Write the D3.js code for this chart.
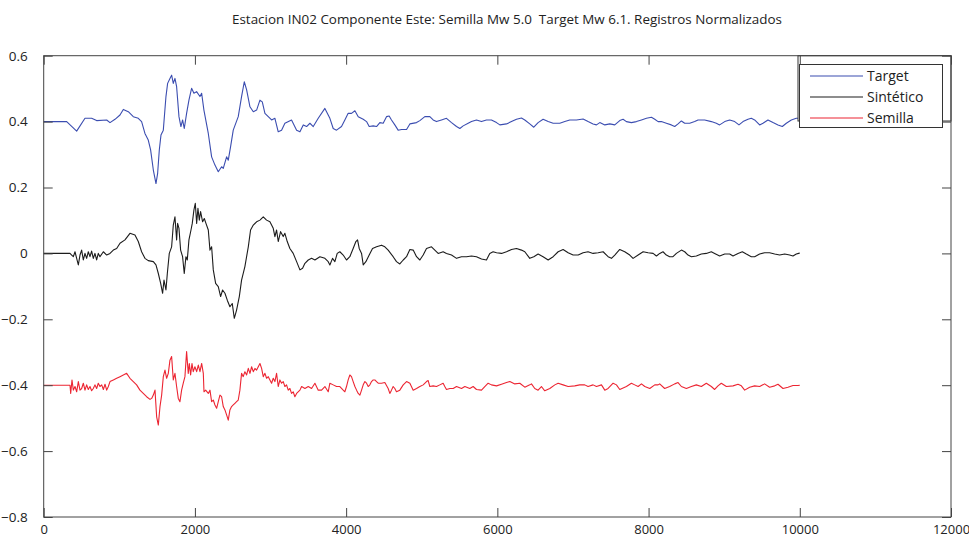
<!DOCTYPE html>
<html>
<head>
<meta charset="utf-8">
<script src="https://cdn.jsdelivr.net/npm/d3@7"></script>
<style>
  body { margin: 0; background: #fff; }
  text { font-family: "Open Sans", "Noto Sans", sans-serif; }
</style>
</head>
<body>
<div id="chart"></div>
<script>
let width = 969;
let height = 540;
let margin = ({top: 55.7, right: 18, bottom: 23, left: 43.7});

let title = "Estacion IN02 Componente Este: Semilla Mw 5.0  Target Mw 6.1. Registros Normalizados";
let seriesNames = ["Target", "Sintético", "Semilla"];
let colors = ["#3b4db0", "#1c1c1c", "#ec2532"];
let xTicks = [0, 2000, 4000, 6000, 8000, 10000, 12000];
let yTicks = [0.6, 0.4, 0.2, 0, -0.2, -0.4, -0.6, -0.8];

// [muestra, amplitud]
let target = [
  [0,0.400],[304,0.400],[436,0.371],[546,0.410],[634,0.410],[700,0.403],[833,0.405],[877,0.397],
  [943,0.407],[1009,0.420],[1053,0.437],[1119,0.430],[1185,0.415],[1251,0.410],[1295,0.400],
  [1339,0.364],[1383,0.344],[1414,0.314],[1450,0.253],[1485,0.212],[1507,0.243],[1529,0.314],
  [1551,0.359],[1582,0.374],[1617,0.476],[1639,0.516],[1670,0.531],[1692,0.541],[1714,0.516],
  [1736,0.531],[1758,0.506],[1789,0.415],[1815,0.385],[1837,0.405],[1859,0.379],[1890,0.425],
  [1921,0.465],[1956,0.501],[1987,0.486],[2022,0.491],[2067,0.476],[2089,0.486],[2119,0.435],
  [2177,0.364],[2221,0.293],[2265,0.268],[2309,0.248],[2353,0.263],[2375,0.258],[2419,0.293],
  [2441,0.283],[2472,0.324],[2507,0.374],[2573,0.415],[2617,0.476],[2653,0.521],[2684,0.496],
  [2728,0.445],[2772,0.430],[2816,0.435],[2860,0.465],[2891,0.460],[2926,0.425],[2970,0.415],
  [3014,0.405],[3058,0.410],[3102,0.369],[3146,0.374],[3190,0.395],[3278,0.405],[3345,0.374],
  [3389,0.369],[3433,0.390],[3477,0.385],[3521,0.395],[3565,0.385],[3631,0.410],[3719,0.440],
  [3785,0.410],[3829,0.379],[3873,0.374],[3939,0.385],[3983,0.405],[4027,0.425],[4071,0.425],
  [4116,0.433],[4160,0.415],[4226,0.407],[4270,0.400],[4305,0.385],[4358,0.387],[4402,0.385],
  [4446,0.397],[4490,0.395],[4534,0.415],[4569,0.417],[4600,0.405],[4644,0.390],[4688,0.374],
  [4733,0.376],[4799,0.376],[4843,0.393],[4931,0.397],[4975,0.403],[5041,0.415],[5107,0.415],
  [5151,0.405],[5195,0.400],[5261,0.405],[5327,0.410],[5394,0.397],[5460,0.385],[5504,0.379],
  [5548,0.387],[5614,0.395],[5658,0.400],[5724,0.405],[5790,0.400],[5856,0.405],[5922,0.405],
  [5989,0.397],[6033,0.390],[6121,0.393],[6187,0.400],[6253,0.407],[6319,0.411],[6363,0.405],
  [6429,0.393],[6482,0.383],[6539,0.397],[6605,0.407],[6672,0.400],[6738,0.395],[6826,0.395],
  [6892,0.400],[6958,0.405],[7046,0.405],[7134,0.408],[7200,0.400],[7266,0.393],[7311,0.390],
  [7355,0.397],[7421,0.390],[7487,0.393],[7553,0.390],[7619,0.403],[7663,0.407],[7707,0.400],
  [7773,0.397],[7839,0.400],[7906,0.405],[7972,0.410],[8038,0.413],[8082,0.407],[8126,0.400],
  [8169,0.400],[8235,0.395],[8301,0.390],[8346,0.385],[8390,0.393],[8434,0.402],[8478,0.395],
  [8544,0.395],[8610,0.400],[8654,0.405],[8742,0.405],[8830,0.400],[8896,0.395],[8940,0.390],
  [9007,0.400],[9073,0.405],[9139,0.400],[9196,0.390],[9249,0.400],[9315,0.407],[9359,0.410],
  [9403,0.405],[9469,0.390],[9513,0.395],[9579,0.405],[9646,0.397],[9712,0.390],[9769,0.385],
  [9822,0.395],[9888,0.405],[9954,0.410],[10000,0.410]
];

let sintetico = [
  [0,0],[348,0],[370,-0.005],[392,-0.010],[414,0.005],[436,-0.015],[458,-0.035],[480,-0.005],
  [502,0.010],[524,-0.020],[546,0],[568,-0.015],[590,0.005],[612,-0.010],[634,0.007],[656,-0.015],
  [678,0],[700,-0.020],[722,0],[744,-0.010],[789,0.005],[833,-0.005],[877,0],[921,0.010],
  [965,0.015],[1009,0.031],[1075,0.041],[1141,0.061],[1207,0.056],[1251,0.036],[1295,0.005],
  [1339,-0.015],[1383,-0.022],[1450,-0.025],[1485,-0.035],[1516,-0.061],[1547,-0.091],[1573,-0.121],
  [1591,-0.081],[1617,-0.111],[1635,-0.061],[1661,0],[1692,0.020],[1714,0.086],[1736,0.111],
  [1758,0.041],[1771,0.091],[1789,0.076],[1811,0.010],[1837,-0.010],[1859,-0.061],[1881,-0.010],
  [1899,-0.020],[1921,0.041],[1948,0.071],[1965,0.091],[1987,0.132],[2005,0.152],[2023,0.091],
  [2040,0.137],[2058,0.101],[2075,0.127],[2102,0.096],[2124,0.106],[2146,0.091],[2177,0.071],
  [2199,0.010],[2221,0.020],[2243,-0.050],[2274,-0.091],[2309,-0.101],[2340,-0.131],[2366,-0.111],
  [2397,-0.121],[2428,-0.142],[2463,-0.162],[2494,-0.152],[2521,-0.197],[2551,-0.172],[2587,-0.131],
  [2617,-0.081],[2661,-0.040],[2706,0.020],[2736,0.071],[2772,0.086],[2816,0.096],[2860,0.101],
  [2904,0.111],[2948,0.101],[2992,0.096],[3036,0.076],[3058,0.051],[3080,0.071],[3102,0.036],
  [3133,0.066],[3168,0.051],[3190,0.061],[3221,0.036],[3256,0.015],[3300,0],[3345,-0.025],
  [3389,-0.050],[3424,-0.045],[3455,-0.030],[3499,-0.020],[3543,-0.015],[3587,-0.020],[3653,-0.010],
  [3719,-0.015],[3763,-0.025],[3785,-0.035],[3820,-0.015],[3851,-0.025],[3882,0],[3917,0.005],
  [3961,-0.005],[4005,-0.020],[4049,-0.010],[4093,0.015],[4129,0.036],[4151,0.041],[4173,0.015],
  [4204,0],[4226,-0.035],[4261,-0.025],[4305,-0.005],[4349,0.015],[4402,0.020],[4468,0.025],
  [4512,0.020],[4556,0.010],[4622,-0.010],[4666,-0.025],[4710,-0.032],[4755,-0.020],[4799,-0.010],
  [4843,0.012],[4887,0.010],[4931,-0.010],[4975,-0.020],[5019,-0.005],[5063,0.015],[5129,0.020],
  [5173,0.010],[5217,0],[5283,0.005],[5327,0],[5394,-0.005],[5460,-0.015],[5526,-0.010],
  [5592,-0.010],[5658,-0.008],[5724,-0.010],[5790,-0.017],[5856,-0.020],[5900,0],[5944,0.005],
  [5989,0.002],[6055,0],[6121,0.005],[6187,0.012],[6253,0.015],[6319,0.010],[6363,0.005],
  [6429,-0.015],[6482,-0.010],[6539,-0.002],[6605,-0.010],[6672,-0.020],[6738,-0.010],[6804,0.005],
  [6870,0.012],[6936,0.002],[7002,-0.005],[7069,-0.005],[7134,0.002],[7200,0.005],[7266,0],
  [7333,0.002],[7399,0.005],[7465,-0.010],[7509,-0.015],[7553,-0.005],[7619,0.012],[7685,0.005],
  [7751,-0.005],[7795,-0.015],[7862,-0.005],[7928,0.005],[7994,0.002],[8060,0],[8104,-0.008],
  [8148,0],[8191,0.005],[8235,-0.005],[8279,-0.010],[8323,-0.010],[8368,0],[8434,0.010],
  [8478,0.005],[8522,-0.005],[8566,-0.010],[8632,-0.008],[8698,-0.002],[8764,0],[8830,0.005],
  [8874,0],[8940,-0.008],[9007,-0.002],[9073,-0.002],[9117,-0.008],[9183,0],[9240,0.005],
  [9293,-0.002],[9359,-0.010],[9403,-0.010],[9469,-0.002],[9535,0.002],[9601,0.002],[9668,-0.002],
  [9734,-0.005],[9800,-0.002],[9866,-0.005],[9910,-0.008],[9954,-0.002],[9985,0],[10000,0.001]
];

let semilla = [
  [0,-0.400],[348,-0.400],[357,-0.425],[374,-0.384],[392,-0.415],[414,-0.404],[436,-0.420],
  [458,-0.389],[480,-0.415],[502,-0.410],[524,-0.394],[546,-0.415],[568,-0.399],[590,-0.413],
  [612,-0.404],[634,-0.417],[656,-0.410],[678,-0.399],[700,-0.410],[722,-0.394],[744,-0.404],
  [767,-0.399],[789,-0.413],[811,-0.397],[833,-0.415],[855,-0.404],[877,-0.389],[921,-0.384],
  [965,-0.379],[1009,-0.374],[1053,-0.369],[1097,-0.364],[1141,-0.379],[1185,-0.389],[1229,-0.399],
  [1273,-0.415],[1317,-0.425],[1361,-0.435],[1406,-0.443],[1428,-0.440],[1450,-0.430],[1472,-0.415],
  [1494,-0.496],[1516,-0.521],[1538,-0.465],[1560,-0.430],[1582,-0.374],[1604,-0.354],[1626,-0.379],
  [1648,-0.364],[1670,-0.324],[1692,-0.313],[1714,-0.384],[1736,-0.364],[1758,-0.404],[1780,-0.440],
  [1802,-0.450],[1824,-0.415],[1846,-0.394],[1868,-0.374],[1890,-0.298],[1912,-0.364],[1926,-0.334],
  [1943,-0.369],[1961,-0.334],[1978,-0.359],[2000,-0.344],[2023,-0.359],[2045,-0.339],[2067,-0.359],
  [2089,-0.334],[2111,-0.364],[2120,-0.420],[2142,-0.415],[2177,-0.425],[2199,-0.415],[2221,-0.450],
  [2243,-0.445],[2265,-0.460],[2287,-0.470],[2309,-0.450],[2331,-0.430],[2353,-0.435],[2375,-0.465],
  [2397,-0.475],[2419,-0.490],[2441,-0.506],[2463,-0.475],[2485,-0.465],[2507,-0.460],[2529,-0.455],
  [2551,-0.450],[2573,-0.445],[2595,-0.415],[2617,-0.364],[2639,-0.374],[2661,-0.359],[2684,-0.369],
  [2706,-0.349],[2728,-0.364],[2750,-0.344],[2772,-0.359],[2794,-0.349],[2816,-0.354],[2838,-0.344],
  [2860,-0.334],[2882,-0.349],[2904,-0.374],[2926,-0.364],[2948,-0.379],[2970,-0.374],[2992,-0.384],
  [3014,-0.394],[3036,-0.379],[3058,-0.389],[3080,-0.364],[3102,-0.404],[3124,-0.384],[3146,-0.394],
  [3168,-0.389],[3190,-0.404],[3212,-0.399],[3234,-0.415],[3256,-0.410],[3278,-0.425],[3300,-0.420],
  [3322,-0.435],[3345,-0.425],[3389,-0.415],[3411,-0.404],[3455,-0.410],[3499,-0.404],[3543,-0.410],
  [3587,-0.394],[3631,-0.415],[3675,-0.415],[3719,-0.404],[3763,-0.420],[3785,-0.394],[3829,-0.399],
  [3873,-0.404],[3917,-0.404],[3961,-0.415],[3983,-0.420],[4005,-0.404],[4027,-0.384],[4049,-0.369],
  [4071,-0.374],[4093,-0.389],[4116,-0.404],[4138,-0.415],[4160,-0.425],[4182,-0.430],[4204,-0.415],
  [4226,-0.399],[4248,-0.389],[4270,-0.394],[4292,-0.404],[4314,-0.399],[4336,-0.389],[4358,-0.384],
  [4380,-0.384],[4402,-0.389],[4424,-0.394],[4468,-0.394],[4512,-0.392],[4556,-0.410],[4578,-0.425],
  [4600,-0.415],[4622,-0.404],[4644,-0.410],[4666,-0.420],[4710,-0.415],[4755,-0.399],[4799,-0.389],
  [4843,-0.394],[4887,-0.415],[4931,-0.410],[4975,-0.404],[5019,-0.399],[5063,-0.389],[5085,-0.386],
  [5107,-0.404],[5151,-0.402],[5195,-0.404],[5239,-0.399],[5283,-0.394],[5305,-0.404],[5327,-0.413],
  [5372,-0.410],[5416,-0.410],[5460,-0.404],[5526,-0.410],[5570,-0.404],[5636,-0.410],[5680,-0.404],
  [5724,-0.413],[5790,-0.415],[5834,-0.404],[5878,-0.394],[5922,-0.399],[5989,-0.402],[6055,-0.397],
  [6121,-0.392],[6165,-0.389],[6231,-0.396],[6297,-0.394],[6363,-0.406],[6429,-0.399],[6451,-0.396],
  [6495,-0.410],[6539,-0.415],[6583,-0.404],[6627,-0.417],[6694,-0.410],[6760,-0.399],[6804,-0.394],
  [6870,-0.399],[6936,-0.404],[7024,-0.402],[7090,-0.399],[7156,-0.399],[7200,-0.404],[7266,-0.399],
  [7311,-0.404],[7377,-0.399],[7421,-0.415],[7465,-0.410],[7531,-0.394],[7575,-0.399],[7619,-0.413],
  [7707,-0.404],[7773,-0.394],[7817,-0.399],[7862,-0.404],[7906,-0.396],[7950,-0.404],[8016,-0.410],
  [8082,-0.399],[8126,-0.399],[8147,-0.396],[8213,-0.410],[8279,-0.404],[8346,-0.396],[8390,-0.392],
  [8434,-0.404],[8500,-0.410],[8566,-0.404],[8632,-0.399],[8698,-0.404],[8764,-0.394],[8830,-0.404],
  [8874,-0.413],[8918,-0.402],[8962,-0.394],[9029,-0.404],[9117,-0.402],[9183,-0.397],[9227,-0.402],
  [9271,-0.415],[9337,-0.406],[9403,-0.402],[9469,-0.404],[9535,-0.396],[9601,-0.406],[9668,-0.402],
  [9712,-0.397],[9778,-0.410],[9844,-0.406],[9910,-0.401],[9976,-0.401],[10000,-0.400]
];

let series = [target, sintetico, semilla];

let x = d3.scaleLinear()
    .domain([0, 12000])
    .range([margin.left, width - margin.right]);
let y = d3.scaleLinear()
    .domain([-0.8, 0.6])
    .range([height - margin.bottom, margin.top]);

let fmt = d => d === 0 ? "0" : (d < 0 ? "\u2212" + Math.abs(d).toFixed(1) : d.toFixed(1));

let svg = d3.select("#chart")
    .append("svg")
    .attr("width", width)
    .attr("height", height);

svg.append("text")
    .attr("x", 507)
    .attr("y", 24)
    .attr("text-anchor", "middle")
    .attr("font-size", 12.5)
    .attr("fill", "#222")
    .attr("textLength", 550)
    .attr("lengthAdjust", "spacingAndGlyphs")
    .style("white-space", "pre")
    .text(title);

let line = d3.line()
    .x(d => x(d[0]))
    .y(d => y(d[1]));

svg.append("g")
    .attr("fill", "none")
    .attr("stroke-width", 1.1)
    .attr("stroke-linejoin", "round")
    .selectAll("path")
    .data(series)
    .join("path")
    .attr("stroke", (d, i) => colors[i])
    .attr("d", line);

// leyenda (dos cajas como en la figura)
let leg = svg.append("g");
leg.append("rect")
    .attr("x", 798).attr("y", margin.top)
    .attr("width", width - margin.right - 798).attr("height", 121 - margin.top)
    .attr("fill", "#fff").attr("stroke", "#333");
leg.append("rect")
    .attr("x", 799.5).attr("y", 64.5)
    .attr("width", 143).attr("height", 63)
    .attr("fill", "#fff").attr("stroke", "#333");
let items = leg.selectAll("g.item")
    .data(seriesNames)
    .join("g")
    .attr("transform", (d, i) => `translate(0,${76 + i * 21})`);
items.append("line")
    .attr("x1", 810).attr("x2", 863)
    .attr("stroke", (d, i) => colors[i])
    .attr("stroke-width", 1.1);
items.append("text")
    .attr("x", 867)
    .attr("dy", "0.35em")
    .attr("font-size", 14)
    .attr("fill", "#222")
    .text(d => d);

// ejes estilo matlab: marco y marcas hacia dentro
let frame = svg.append("g").attr("stroke", "#444").attr("fill", "none");
frame.append("rect")
    .attr("x", margin.left).attr("y", margin.top)
    .attr("width", width - margin.right - margin.left)
    .attr("height", height - margin.bottom - margin.top);

svg.append("g")
    .attr("transform", `translate(0,${height - margin.bottom})`)
    .call(d3.axisBottom(x).tickValues(xTicks).tickSize(-9).tickPadding(8).tickFormat(d3.format("d")))
    .call(g => g.select(".domain").remove())
    .call(g => g.selectAll("line").attr("stroke", "#444"))
    .call(g => g.selectAll("text").attr("font-size", 13).attr("fill", "#222").attr("font-family", "Open Sans"));

svg.append("g")
    .attr("transform", `translate(0,${margin.top})`)
    .call(d3.axisTop(x).tickValues(xTicks).tickSize(-9).tickFormat(() => ""))
    .call(g => g.select(".domain").remove())
    .call(g => g.selectAll("line").attr("stroke", "#444"));

svg.append("g")
    .attr("transform", `translate(${margin.left},0)`)
    .call(d3.axisLeft(y).tickValues(yTicks).tickSize(-9).tickPadding(16).tickFormat(fmt))
    .call(g => g.select(".domain").remove())
    .call(g => g.selectAll("line").attr("stroke", "#444"))
    .call(g => g.selectAll("text").attr("font-size", 13.5).attr("fill", "#222").attr("font-family", "Open Sans"));

svg.append("g")
    .attr("transform", `translate(${width - margin.right},0)`)
    .call(d3.axisRight(y).tickValues(yTicks).tickSize(-9).tickFormat(() => ""))
    .call(g => g.select(".domain").remove())
    .call(g => g.selectAll("line").attr("stroke", "#444"));
</script>
</body>
</html>
